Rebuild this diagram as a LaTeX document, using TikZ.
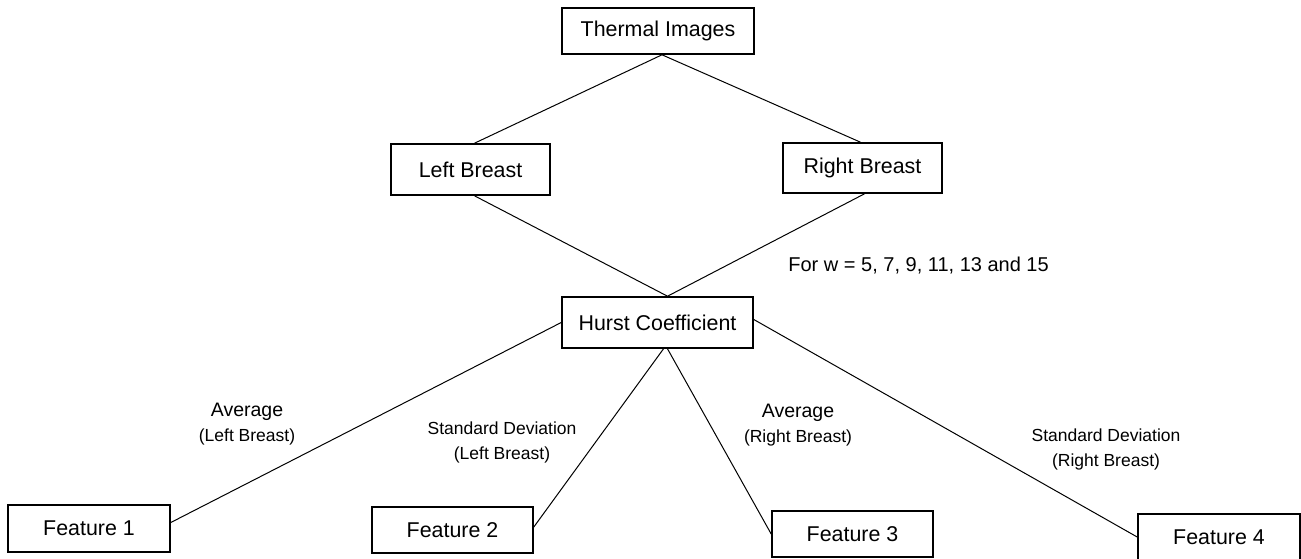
\documentclass[tikz,border=0pt]{standalone}
\usepackage{fontspec}
\setmainfont{Liberation Sans}
\usepackage{tikz}
\usetikzlibrary{positioning}
\tikzset{featurebox/.style={rectangle, draw=black, line width=0.8pt, fill=white, inner sep=0pt, font=\fontsize{10.7}{13}\selectfont},
    linkline/.style={draw=black, line width=0.5pt},
    branchlabel/.style={align=center, inner sep=0pt, font=\fontsize{8.75}{12.5}\selectfont}}
\newcommand{\avgtext}[1]{{\fontsize{9.75}{12.5}\selectfont Average}\\(#1)}

\begin{document}
\begin{tikzpicture}[x=0.5pt, y=-0.5pt]
        \useasboundingbox (0, 0) rectangle (1301, 558);
        % Boxes
        \node[featurebox, minimum width=96pt, minimum height=23pt] (thermal) at (658, 31) {Thermal Images};
        \node[featurebox, minimum width=79.5pt, minimum height=25.5pt] (leftbreast) at (470.5, 169.5) {Left Breast};
        \node[featurebox, minimum width=79.5pt, minimum height=25pt] (rightbreast) at (862.5, 168) {Right Breast};
        \node[featurebox, minimum width=95.5pt, minimum height=25.5pt] (hurst) at (657.5, 322.5) {Hurst Coefficient};
        \node[featurebox, minimum width=81pt, minimum height=23.5pt] (feature1) at (89, 528.5) {Feature 1};
        \node[featurebox, minimum width=80.5pt, minimum height=23pt] (feature2) at (452.5, 530) {Feature 2};
        \node[featurebox, minimum width=80.5pt, minimum height=23pt] (feature3) at (852.5, 534) {Feature 3};
        \node[featurebox, minimum width=81pt, minimum height=23pt] (feature4) at (1219, 537) {Feature 4};
        % Lines
        \draw[linkline] ([xshift=2pt]thermal.south) -- ([xshift=2pt]leftbreast.north);
        \draw[linkline] ([xshift=2pt]thermal.south) -- ([xshift=-1pt]rightbreast.north);
        \draw[linkline] ([xshift=2pt]leftbreast.south) -- ([xshift=5pt]hurst.north);
        \draw[linkline] ([xshift=1pt]rightbreast.south) -- ([xshift=5pt]hurst.north);
        \draw[linkline] (hurst.west) -- ([yshift=3pt]feature1.east);
        \draw[linkline] ([xshift=3pt]hurst.south) -- ([yshift=1.5pt]feature2.east);
        \draw[linkline] ([xshift=5pt]hurst.south) -- (feature3.west);
        \draw[linkline] ([yshift=1.5pt]hurst.east) -- (feature4.west);
        % Labels
        \node[anchor=base west, inner sep=0pt, font=\fontsize{10}{12}\selectfont] (windows) at (788, 271) {For w = 5, 7, 9, 11, 13 and 15};
        \node[branchlabel] (avgleft) at (247, 424.5) {\avgtext{Left Breast}};
        \node[branchlabel] (sdleft) at (502, 442.5) {Standard Deviation\\(Left Breast)};
        \node[branchlabel] (avgright) at (798, 425.5) {\avgtext{Right Breast}};
        \node[branchlabel] (sdright) at (1106, 449.5) {Standard Deviation\\(Right Breast)};
    \end{tikzpicture}
\end{document}
